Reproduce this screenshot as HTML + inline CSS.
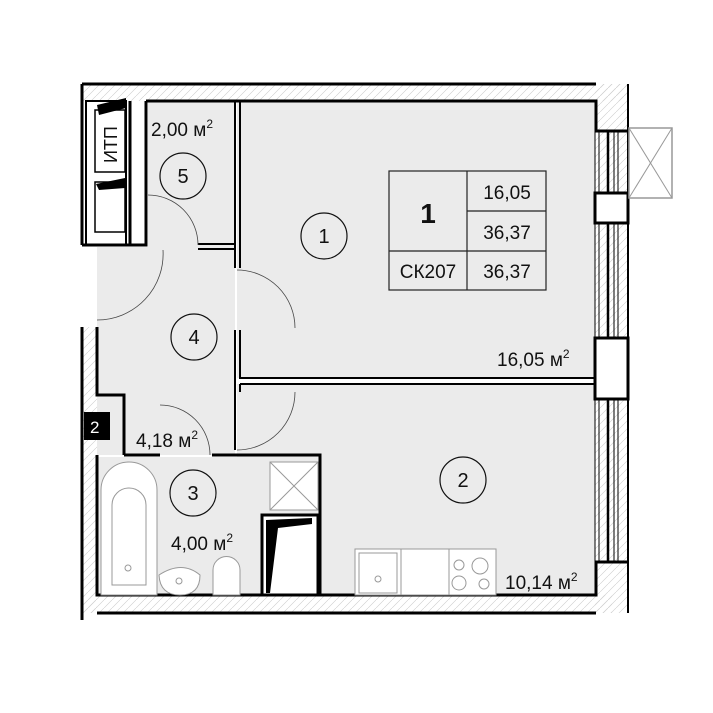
<!DOCTYPE html>
<html><head><meta charset="utf-8"><style>body{margin:0;background:#fff}svg{display:block}text{font-family:"Liberation Sans",sans-serif;fill:#111}</style></head><body>
<svg width="713" height="713" viewBox="0 0 713 713" xmlns="http://www.w3.org/2000/svg">
<defs><pattern id="h" width="8" height="8" patternUnits="userSpaceOnUse"><path d="M0 8L8 0" stroke="#ccc" stroke-width="0.6"/></pattern></defs>
<rect x="82" y="84" width="546" height="17" fill="url(#h)"/>
<rect x="595" y="84" width="33" height="529" fill="url(#h)"/>
<rect x="82" y="595" width="530" height="18" fill="url(#h)"/>
<rect x="82" y="327" width="15" height="286" fill="url(#h)"/>
<rect x="237" y="101" width="358" height="277" fill="#ebebeb"/>
<rect x="237" y="384" width="358" height="211" fill="#ebebeb"/>
<rect x="148" y="101" width="87" height="146" fill="#ebebeb"/>
<rect x="97" y="247" width="138" height="208" fill="#ebebeb"/>
<rect x="97" y="457" width="223" height="138" fill="#ebebeb"/>
<g stroke="#000" fill="none">
<path d="M82 84H596" stroke-width="3"/>
<path d="M82 84V245M82 327V620" stroke-width="3"/>
<path d="M97 613H596" stroke-width="3"/>
<path d="M628 84V613" stroke-width="2"/>
<path d="M146 101H596V131H628" stroke-width="3"/>
<path d="M146 101V245H82" stroke-width="3"/>
<path d="M130 101V245" stroke-width="3"/>
<path d="M97 327V395H124V455" stroke-width="3"/>
<path d="M97 455V595H596V562H628" stroke-width="3"/>
<path d="M124 455H160M212 455H320V595" stroke-width="3"/>
<path d="M235 101V268M240 101V268" stroke-width="2"/>
<path d="M198 244H235M198 249H235" stroke-width="2"/>
<path d="M235 330V450M240 330V378H595M240 384H595M240 384V392" stroke-width="2"/>
<path d="M595 131V562M599 131V562M614 131V562M618 131V562" stroke-width="1"/>
<path d="M608 131V562" stroke-width="2.5"/>
<rect x="595" y="193" width="33" height="30" fill="#fff" stroke-width="3"/>
<rect x="595" y="338" width="33" height="61" fill="#fff" stroke-width="3"/>
<rect x="629" y="128" width="43" height="70" stroke="#999" stroke-width="1.5"/>
<path d="M629 128L672 198M672 128L629 198" stroke="#999"/>
<rect x="86" y="101" width="40" height="144" stroke-width="2"/>
</g>
<rect x="84" y="412" width="26" height="28" fill="#000"/>
<text x="90" y="433" font-size="17" fill="#fff" style="fill:#fff">2</text>
<rect x="95" y="110" width="30" height="62" fill="#fff" stroke="#000" stroke-width="1.5"/>
<rect x="95" y="182" width="30" height="50" fill="#fff" stroke="#000" stroke-width="1.5"/>
<path d="M97 105L126 98V108L99 115Z" fill="#000"/>
<path d="M96 184L125 178V188L99 190Z" fill="#000"/>
<text x="117" y="163" font-size="18" transform="rotate(-90 117 163)">ИТП</text>
<g stroke="#444" fill="none" stroke-width="0.8">
<path d="M148 195A50 50 0 0 1 198 245"/>
<path d="M163 250A66 66 0 0 1 97 320"/>
<path d="M237 270A58 58 0 0 1 295 328"/>
<path d="M295 392A58 58 0 0 1 237 450"/>
<path d="M160 405A50 50 0 0 1 210 455"/>
</g>
<g stroke="#999" fill="#fff" stroke-width="1">
<path d="M101 595V490A28 28 0 0 1 157 490V595Z"/>
<path d="M112 585V505A17 17 0 0 1 146 505V585Z"/>
<circle cx="128" cy="568" r="3"/>
<path d="M159 575Q182 560 200 575Q200 595 180 595Q160 595 159 575Z"/>
<circle cx="179" cy="581" r="3"/>
<path d="M213 595V570A13 13 0 0 1 240 570V595Z"/>
<rect x="270" y="462" width="48" height="48"/>
<path d="M270 462L318 510M318 462L270 510"/>
<rect x="355" y="549" width="46" height="46"/>
<rect x="359" y="553" width="38" height="40"/>
<circle cx="378" cy="579" r="3"/>
<rect x="401" y="549" width="48" height="46"/>
<rect x="449" y="549" width="47" height="46"/>
<circle cx="459" cy="565" r="5"/><circle cx="480" cy="566" r="8"/><circle cx="459" cy="583" r="7"/><circle cx="484" cy="584" r="5"/>
</g>
<rect x="262" y="515" width="56" height="80" fill="#fff" stroke="#000" stroke-width="3"/>
<path d="M266 520L312 518V524L278 528L270 593H266Z" fill="#000"/>
<g fill="none" stroke="#111" stroke-width="1.2">
<circle cx="183" cy="176" r="23"/><circle cx="324" cy="236" r="23"/><circle cx="194" cy="337" r="23"/><circle cx="193" cy="493" r="23"/><circle cx="463" cy="480" r="23"/>
</g>
<g font-size="20" text-anchor="middle">
<text x="183" y="183">5</text><text x="324" y="243">1</text><text x="194" y="344">4</text><text x="193" y="500">3</text><text x="463" y="487">2</text>
</g>
<g font-size="19">
<text x="151" y="136">2,00 м<tspan font-size="12" dy="-8">2</tspan></text>
<text x="136" y="447">4,18 м<tspan font-size="12" dy="-8">2</tspan></text>
<text x="171" y="550">4,00 м<tspan font-size="12" dy="-8">2</tspan></text>
<text x="497" y="366">16,05 м<tspan font-size="12" dy="-8">2</tspan></text>
<text x="505" y="589">10,14 м<tspan font-size="12" dy="-8">2</tspan></text>
</g>
<g stroke="#222" fill="none" stroke-width="1.2">
<rect x="389" y="171" width="157" height="119"/>
<path d="M467 171V290M467 211H546M389 251H546"/>
</g>
<text x="428" y="223" font-size="28" font-weight="bold" text-anchor="middle">1</text>
<g font-size="19" text-anchor="middle">
<text x="507" y="199">16,05</text><text x="507" y="239">36,37</text><text x="507" y="278">36,37</text><text x="428" y="278">СК207</text>
</g>
</svg>
</body></html>
